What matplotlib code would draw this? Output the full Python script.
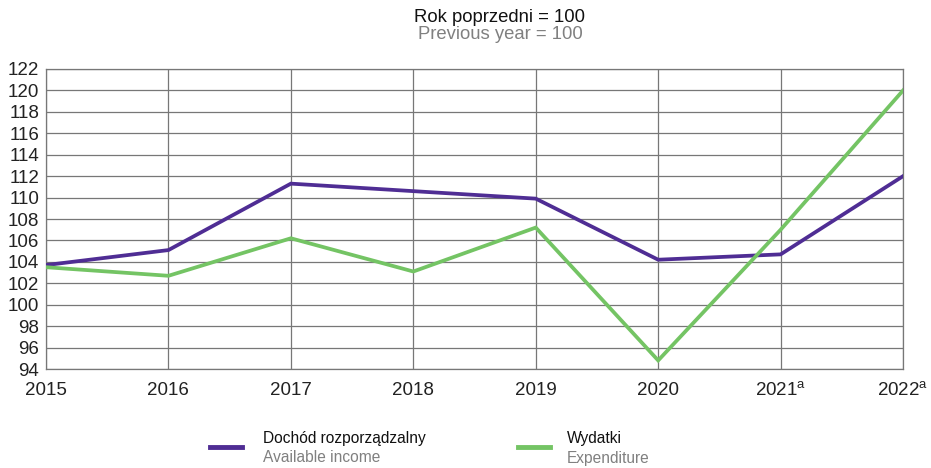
import matplotlib.pyplot as plt
from matplotlib.lines import Line2D

plt.rcParams['font.family'] = ['Liberation Sans', 'DejaVu Sans']
plt.rcParams['mathtext.default'] = 'regular'

# Data: previous year = 100
years = ["2015", "2016", "2017", "2018", "2019", "2020", "2021$^{a}$", "2022$^{a}$"]
income = [103.7, 105.1, 111.3, 110.6, 109.9, 104.2, 104.7, 112.0]
expenditure = [103.5, 102.7, 106.2, 103.1, 107.2, 94.8, 107.0, 120.0]

purple = "#4f2d94"
green = "#74c464"
grid_col = "#777777"

fig = plt.figure(figsize=(9.31, 4.68), dpi=100)
ax = fig.add_axes([0.0494, 0.2115, 0.9206, 0.6411])

x = list(range(len(years)))
ax.plot(x, income, color=purple, lw=2.7, solid_joinstyle="miter", zorder=3)
ax.plot(x, expenditure, color=green, lw=2.7, solid_joinstyle="miter", zorder=3)

ax.set_xlim(0, len(years) - 1)
ax.set_ylim(94, 122)
ax.set_yticks(range(94, 123, 2))
ax.set_xticks(x)
ax.set_xticklabels(years, va="baseline")
ax.grid(True, color=grid_col, lw=0.9)
ax.tick_params(axis="both", length=0, labelsize=13.5, colors="#222222")
ax.tick_params(axis="x", pad=18.5)
ax.tick_params(axis="y", pad=5)
for s in ax.spines.values():
    s.set_color(grid_col)
    s.set_linewidth(0.9)

# title
fig.text(0.537, 0.963, "Rok poprzedni = 100", ha="center", va="center", fontsize=13.3, color="#111111")
fig.text(0.537, 0.926, "Previous year = 100", ha="center", va="center", fontsize=13.3, color="#808080")

# legend
fig.add_artist(Line2D([210 / 931, 242 / 931], [1 - 447 / 468] * 2, color=purple, lw=3.5))
fig.text(263 / 931, 1 - 438 / 468, "Dochód rozporządzalny", ha="left", va="center", fontsize=11.2, color="#111111")
fig.text(263 / 931, 1 - 458 / 468, "Available income", ha="left", va="center", fontsize=11.2, color="#808080")
fig.add_artist(Line2D([518 / 931, 550 / 931], [1 - 447 / 468] * 2, color=green, lw=3.5))
fig.text(567 / 931, 1 - 438 / 468, "Wydatki", ha="left", va="center", fontsize=11.2, color="#111111")
fig.text(567 / 931, 1 - 458 / 468, "Expenditure", ha="left", va="center", fontsize=11.2, color="#808080")

fig.savefig("out.png", dpi=100)
